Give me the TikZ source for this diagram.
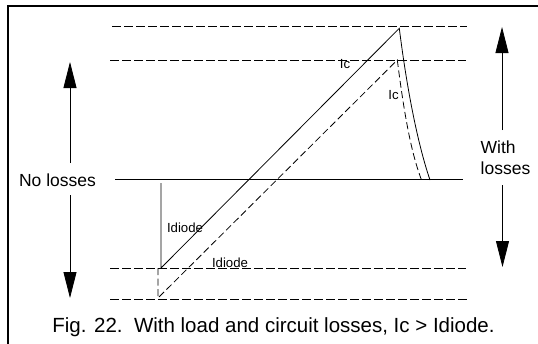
\documentclass[tikz,border=0pt]{standalone}
\usepackage{fontspec}
\setmainfont{Liberation Sans}
\usetikzlibrary{arrows.meta}
\tikzset{
  frameline/.style={line width=2.4pt, line cap=rect},
  guide/.style={line width=0.8pt, dash pattern=on 8.5pt off 3.5pt},
  wave/.style={line width=0.8pt},
  wavedash/.style={line width=0.8pt, dash pattern=on 7pt off 3.5pt},
  bigarrow/.style={line width=0.8pt, -{Triangle[width=13pt,length=26pt]}},
  sidelabel/.style={inner sep=0pt, font=\fontsize{17.5}{21}\selectfont},
  smalllabel/.style={inner sep=0pt, font=\fontsize{13.2}{15}\selectfont},
  caption/.style={inner sep=0pt, font=\fontsize{20.5}{24}\selectfont}
}
\begin{document}
\begin{tikzpicture}[x=1pt,y=-1pt]
\useasboundingbox (0,0) rectangle (538,343);
% frame (top and left edges)
\draw[frameline] (8,343) -- (8,6) -- (538,6);
% horizontal guide lines
\coordinate (g1a) at (112,26);  \coordinate (g1b) at (467,26);
\coordinate (g2a) at (110,60);  \coordinate (g2b) at (466,60);
\coordinate (g3a) at (110,268); \coordinate (g3b) at (466,268);
\coordinate (g4a) at (110,299); \coordinate (g4b) at (467,299);
\draw[guide] (g1a) -- (g1b);
\draw[guide] (g2a) -- (g2b);
\draw[guide] (g3a) -- (g3b);
\draw[guide] (g4a) -- (g4b);
\coordinate (z1) at (115,179.5); \coordinate (z2) at (463,179.5);
\draw[wave] (z1) -- (z2);
% solid waveform (no losses)
\coordinate (sv) at (161,183);
\coordinate (sb) at (161,268);
\coordinate (sp) at (399.3,28.3);
\coordinate (se) at (430,180);
\draw[wave] (sv) -- (sb) -- (sp) .. controls (407,90) and (418,145) .. (se);
% dashed waveform (with losses)
\coordinate (dt) at (158,268);
\coordinate (db) at (158,298);
\coordinate (dp) at (397.3,60);
\coordinate (de) at (421.5,180);
\draw[wavedash] (dt) -- (db) -- (dp) .. controls (403,105) and (410,150) .. (de);
% left arrows
\coordinate (la1) at (70,163); \coordinate (la2) at (70,62);
\coordinate (la3) at (70,195); \coordinate (la4) at (70,298);
\draw[bigarrow] (la1) -- (la2);
\draw[bigarrow] (la3) -- (la4);
% right arrows
\coordinate (ra1) at (502,130); \coordinate (ra2) at (502,27);
\coordinate (ra3) at (502.5,185); \coordinate (ra4) at (502.5,267);
\draw[bigarrow] (ra1) -- (ra2);
\draw[bigarrow] (ra3) -- (ra4);
% labels
\node[sidelabel] (noloss) at (57.5,180) {No losses};
\node[sidelabel, anchor=west, align=left] (withloss) at (480.5,158) {With\\losses};
\node[smalllabel] (ic1) at (345,64.5) {Ic};
\node[smalllabel] (ic2) at (393.5,95) {Ic};
\node[smalllabel] (id1) at (185,227.5) {Idiode};
\node[smalllabel] (id2) at (230,262.5) {Idiode};
\node[caption] (cap) at (273.5,327) {Fig. 22.\ \ With load and circuit losses, Ic > Idiode.};
\end{tikzpicture}
\end{document}
